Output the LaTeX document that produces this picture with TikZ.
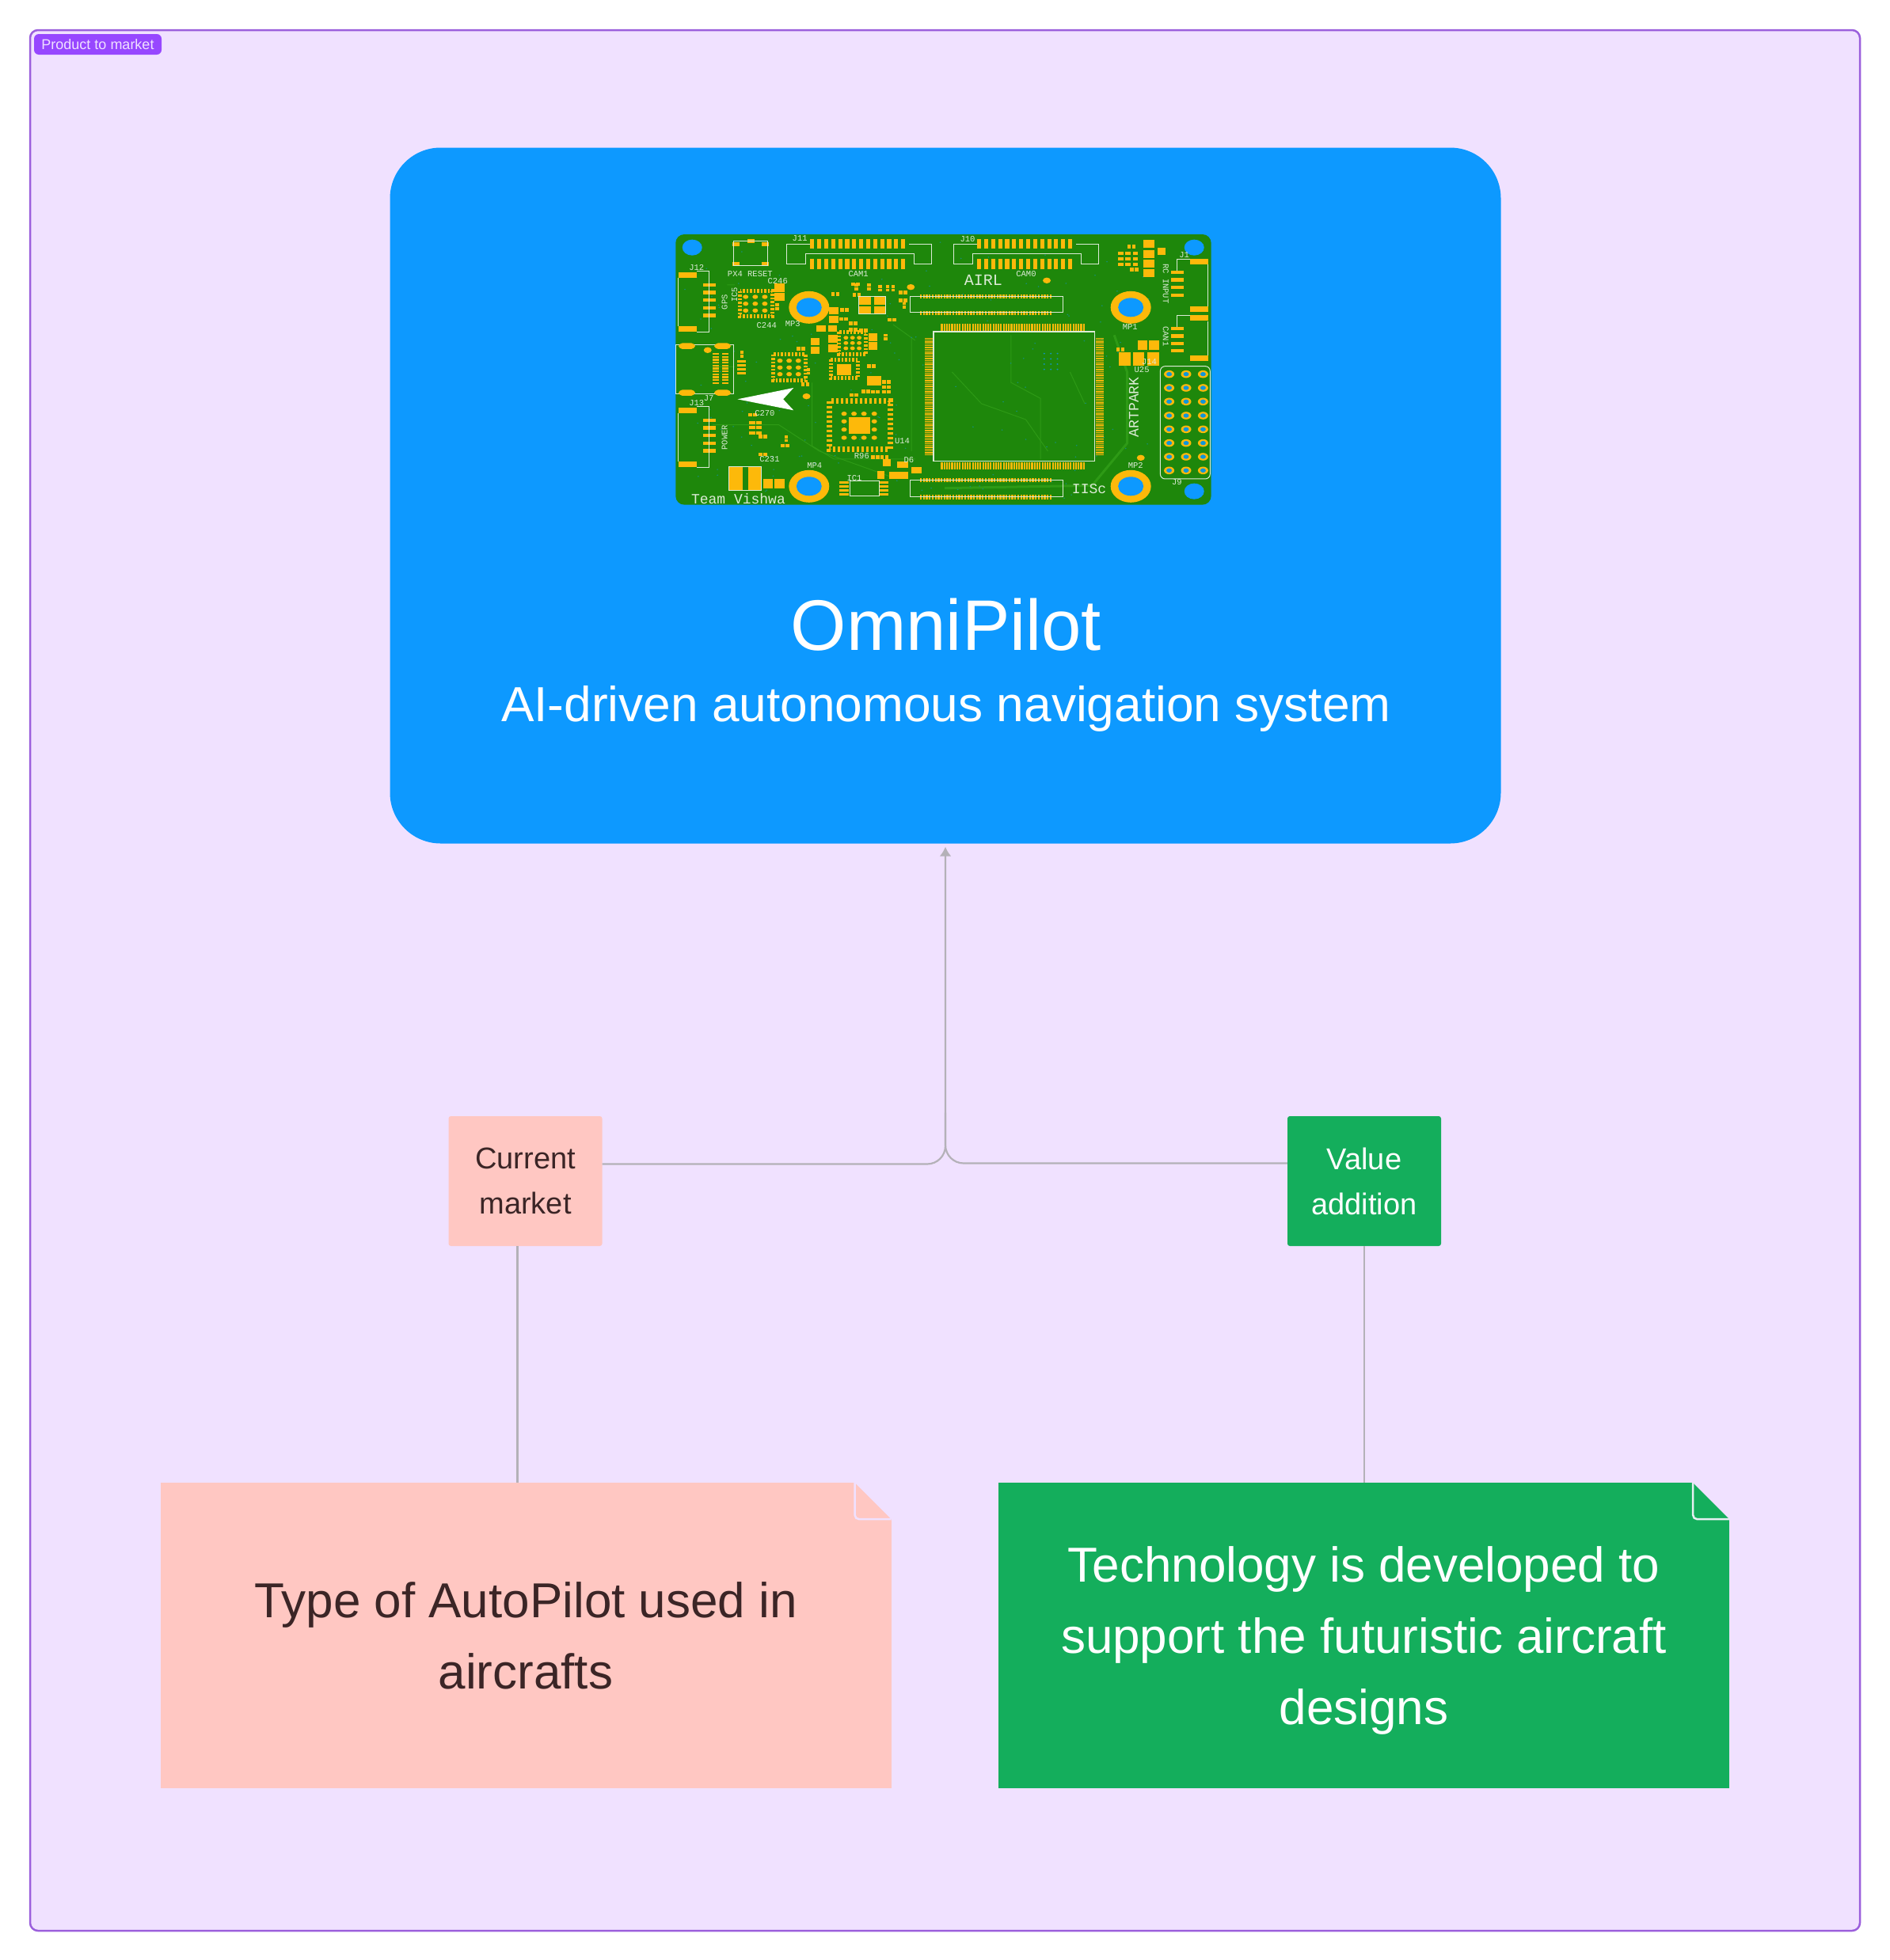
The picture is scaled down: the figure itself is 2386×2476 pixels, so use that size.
\documentclass[tikz,border=0pt]{standalone}
\usepackage{fontspec}
\setmainfont{Liberation Sans}
\newfontfamily\pcbfont{Liberation Mono}
\usetikzlibrary{arrows.meta}
\definecolor{framefill}{HTML}{F0E1FF}
\definecolor{frameline}{HTML}{9B5FDC}
\definecolor{tagfill}{HTML}{9747FF}
\definecolor{omniblue}{HTML}{0D99FF}
\definecolor{notepink}{HTML}{FFC7C2}
\definecolor{notegreen}{HTML}{14AE5C}
\definecolor{inkdark}{HTML}{3B2526}
\definecolor{linkgrey}{HTML}{B4B1B8}
\definecolor{boardgreen}{HTML}{1E870B}
\definecolor{tracegreen}{HTML}{2E9A16}
\definecolor{padgold}{HTML}{FDB90A}
\definecolor{silkline}{HTML}{DCEBD6}
\tikzset{
  box/.style={inner sep=0pt,align=center},
  smallbox/.style={box,minimum width=194pt,minimum height=164pt,rounded corners=3pt,font=\fontsize{38}{57}\selectfont},
  notebox/.style={box,minimum width=923pt,minimum height=385.5pt,font=\fontsize{62}{90}\selectfont},
  link/.style={draw=linkgrey,line width=2.2pt},
  silk/.style={draw=silkline,line width=1pt},
  pcblabel/.style={inner sep=0pt,text=silkline,font=\pcbfont\fontsize{10.5}{10.5}\selectfont},
  pcbbig/.style={inner sep=0pt,text=silkline,font=\pcbfont\fontsize{18}{18}\selectfont}
}
\begin{document}
\begin{tikzpicture}[x=1pt,y=-1pt]
	\useasboundingbox (0,0) rectangle (2386,2476);
	% Frame and its tag
	\draw[fill=framefill,draw=frameline,line width=2.5pt,rounded corners=10pt] (38,38) rectangle (2349,2439);
	\node[box,fill=tagfill,text=framefill,minimum width=161pt,minimum height=26pt,rounded corners=6pt,font=\fontsize{18}{18}\selectfont] (tag) at (123.5,56) {Product to market};
	% Main box
	\node[box,fill=omniblue,minimum width=1403pt,minimum height=879pt,rounded corners=64pt] (omnipilot) at (1194,626) {};
	\node[anchor=base,inner sep=0pt,text=white,font=\fontsize{90.5}{90.5}\selectfont] (omnititle) at (1195,821) {OmniPilot};
	\node[anchor=base,inner sep=0pt,text=white,font=\fontsize{62.2}{62.2}\selectfont] (omnisub) at (1195,911) {AI-driven autonomous navigation system};
	% Small boxes
	\node[smallbox,fill=notepink,text=inkdark] (current) at (663.5,1492) {Current\\market};
	\node[smallbox,fill=notegreen,text=white] (value) at (1723,1492) {Value\\addition};
	% Notes
	\node[notebox,fill=notepink,text=inkdark] (typenote) at (664,2066) {Type of AutoPilot used in\\aircrafts};
	\node[notebox,fill=notegreen,text=white] (technote) at (1722.5,2066) {Technology is developed to\\support the futuristic aircraft\\\smash{designs}};
	% Folded corners
	\foreach \n/\c in {typenote/framefill,technote/framefill!80!notegreen!40!white}{
		\fill[framefill] ([shift={(1pt,1pt)}]\n.north east) -- ++(-48,0) -- ++(48,48) -- cycle;
		\draw[draw=\c,line width=2.5pt,rounded corners=5pt] ([xshift=-46pt]\n.north east) -- ++(0,46) -- ++(46,0);
	}
	% Connectors
	\draw[link,rounded corners=23pt,-{Latex[length=12pt,width=15pt]},shorten >=4pt] ([yshift=21.5pt]current.east) -| (omnipilot.south);
	\draw[link,rounded corners=23pt] ([yshift=22.5pt]value.west) -| ([yshift=-340pt]omnipilot.south);
	\draw[link] ([xshift=-10pt]current.south) -- ([xshift=-10pt]current.south |- typenote.north);
	\draw[link] (value.south) -- (value.south |- technote.north);
	% Circuit board, in its own coordinates
	\begin{scope}[shift={(830,270)},x=0.4655pt,y=-0.3333pt]
		\fill[boardgreen,rounded corners=11pt] (50,78) rectangle (1503,1103);
		% Copper traces
		\draw[tracegreen,line width=3pt] (1240,460) -- (1275,600) -- (1275,870) -- (1180,1030) -- (780,1040);
		\draw[tracegreen,line width=1pt] (800,600) -- (880,720) -- (1000,780) -- (1060,900);
		\draw[tracegreen,line width=1pt] (960,460) -- (960,640) -- (1040,700) -- (1040,930);
		\draw[tracegreen,line width=1pt] (150,800) -- (330,800) -- (440,900) -- (640,1000);
		\draw[tracegreen,line width=1pt] (190,270) -- (210,270) (690,470) -- (690,900) (1120,600) -- (1160,720);
		\draw[tracegreen,line width=1pt] (420,640) -- (420,880) -- (480,930) -- (700,930) (640,420) -- (700,480) (160,580) -- (210,580);
		% Vias
		\pgfmathsetseed{7}
		\foreach \i in {1,...,170}{
			\pgfmathsetmacro\vx{70+1280*rnd}
			\pgfmathsetmacro\vy{100+980*rnd}
			\fill[omniblue!45!boardgreen] (\vx,\vy) circle [x radius=1pt,y radius=0.8pt];
		}
		\foreach \x in {1050,1068,1086} \foreach \y in {530,550,570,590} \fill[omniblue!70!boardgreen] (\x,\y) circle [x radius=1.2pt,y radius=1pt];
		\foreach \x/\y in {137/517,405/692,1057/253,688/278,1312/925}\fill[padgold] (\x,\y) circle [x radius=5pt,y radius=3.7pt];
		% Holes
		\foreach \x/\y in {95/128,1457/128,1457/1052} \fill[omniblue] (\x,\y) circle [x radius=12.5pt,y radius=10pt];
		\foreach \x in {412,1285} \foreach \y in {355,1033}{
			\fill[padgold] (\x,\y) circle [x radius=25.5pt,y radius=20.5pt];
			\fill[omniblue] (\x,\y) circle [x radius=16pt,y radius=12pt];
		}
		% Camera connectors
		\foreach \o in {0,453}{
			\foreach \x in {415,434,...,675}{
				\fill[padgold] (\o+\x,97) rectangle ++(11,35);
				\fill[padgold] (\o+\x,170) rectangle ++(11,40);
			}
			\draw[silk] (\o+415,115) -- ++(-63,0) -- ++(0,75) -- ++(50,0) -- ++(0,-38) -- ++(295,0) -- ++(0,38) -- ++(48,0) -- ++(0,-75) -- ++(-62,0);
		}
		% Fine pitch connectors
		\foreach \y in {305,1003}{
			\foreach \x in {713,721,...,1071}{
				\fill[padgold] (\x,\y) rectangle ++(5,15);
				\fill[padgold] (\x,\y+63) rectangle ++(5,16);
			}
			\draw[silk] (687,\y+8) rectangle (1100,\y+70);
		}
		% Big chip
		\foreach \x in {770,777,...,1160}{
			\fill[padgold] (\x,418) rectangle ++(4.5,27);
			\fill[padgold] (\x,941) rectangle ++(4.5,27);
		}
		\foreach \y in {470,477,...,915}{
			\fill[padgold] (725,\y) rectangle ++(23,4);
			\fill[padgold] (1190,\y) rectangle ++(22,4);
		}
		\draw[silk,line width=1.5pt] (750,447) rectangle (1187,938);
		% Smaller chips
		\foreach \l/\t/\r/\b in {225/293/312/390,315/533/402/632,493/448/567/532,471/553/545/622}
			\draw[padgold,line width=5pt,dash pattern=on 2.5pt off 2pt] (\l,\t) rectangle (\r,\b);
		\foreach \x in {240,266,292} \foreach \y in {315,341,367} \fill[padgold] (\x,\y) circle [x radius=3.5pt,y radius=2.7pt];
		\foreach \x in {333,358,383} \foreach \y in {557,583,608} \fill[padgold] (\x,\y) circle [x radius=3.5pt,y radius=2.7pt];
		\foreach \x in {512,530,548} \foreach \y in {470,490,510} \fill[padgold] (\x,\y) circle [x radius=3pt,y radius=2.4pt];
		\fill[padgold] (488,570) rectangle (527,612);
		\draw[padgold,line width=7pt,dash pattern=on 3pt off 3pt] (467,710) rectangle (632,893);
		\fill[padgold] (520,772) rectangle (577,835);
		\foreach \x in {507,534,561,589} \foreach \y in {758,849} \fill[padgold] (\x,\y) circle [x radius=3.5pt,y radius=2.7pt];
		\foreach \x in {507,589} \foreach \y in {787,818} \fill[padgold] (\x,\y) circle [x radius=3.5pt,y radius=2.7pt];
		% Side connectors
		\foreach \o in {0,513}{
			\foreach \y in {222,425} \fill[padgold] (57,\o+\y) rectangle ++(50,21);
			\foreach \y in {263,292,...,405} \fill[padgold] (125,\o+\y) rectangle ++(33,13);
			\draw[silk] (107,\o+218) -- ++(33,0) -- ++(0,230) -- ++(-33,0) (57,\o+243) -- ++(0,182);
		}
		\foreach \y in {172,350,385,538} \fill[padgold] (1445,\y) rectangle ++(50,21);
		\foreach \y in {215,244,273,302} \fill[padgold] (1395,\y) rectangle ++(33,13);
		\foreach \y in {428,457,486,513} \fill[padgold] (1395,\y) rectangle ++(33,13);
		\draw[silk] (1445,172) -- (1410,172) -- (1410,215) (1495,193) -- (1495,350) (1445,385) -- (1410,385) -- (1410,428) (1495,407) -- (1495,538);
		% Pin header
		\draw[silk,rounded corners=6pt] (1365,578) rectangle (1500,1005);
		\foreach \x in {1389,1435,1481} \foreach \y in {608,660,712,765,817,869,921,973}{
			\fill[padgold] (\x,\y) circle [x radius=6.5pt,y radius=4.8pt];
			\fill[omniblue!85!boardgreen] (\x,\y) circle [x radius=3.5pt,y radius=2.7pt];
		}
		% USB connector
		\draw[silk] (50,498) rectangle (207,683);
		\foreach \y in {490,667} \foreach \x in {58,155} \fill[padgold,rounded corners=5pt] (\x,\y) rectangle ++(45,23);
		\foreach \x in {150,177} \foreach \y in {528,539,...,640} \fill[padgold] (\x,\y) rectangle ++(17,7);
		% Reset switch
		\foreach \x/\y in {203/108,283/108,203/183,283/183,245/96} \fill[padgold] (\x,\y) rectangle ++(20,14);
		% Passive parts
		\foreach \x/\y in {378/505,472/298,530/300,496/358,520/408,625/395,570/570,610/630,610/650,610/668,555/666,580/668,522/680,580/915,605/915,275/905,247/755,275/838,335/872,390/640,655/292,655/322,1275/118,1283/205,1245/508,527/260,520/432,548/435,495/392}{
			\fill[padgold] (\x,\y) rectangle ++(10,14);
			\fill[padgold] (\x+13,\y) rectangle ++(10,14);
		}
		\foreach \x/\y in {225/520,345/840,405/585,320/340,600/270,620/270,570/265,665/335,635/270,615/455,535/265}{
			\fill[padgold] (\x,\y) rectangle ++(10,11);
			\fill[padgold] (\x,\y+14) rectangle ++(10,11);
		}
		\foreach \l/\t/\r/\b in {318/265/345/296,318/300/345/330,432/423/458/448,463/423/488/448,467/355/492/382,467/388/492/415,573/452/597/482,573/487/597/517,465/460/490/490,465/495/490/525,417/470/440/498,417/503/440/530,1305/480/1330/515,1335/480/1362/515,195/958/232/1050,247/958/283/1050,287/1005/313/1040,318/1005/345/1040,547/315/580/345,588/315/620/345,547/350/580/380,588/350/620/380,1318/100/1350/130,1318/138/1350/168,1318/175/1350/205,1318/210/1350/240,1252/525/1285/575,1292/525/1322/575,1330/525/1362/575,1357/128/1380/155,570/615/607/650,612/930/634/958,650/940/680/962,690/960/718/985,597/975/617/1005,630/978/680/1005}
			\fill[padgold] (\l,\t) rectangle (\r,\b);
		\foreach \y in {1015,1030,1045,1060} \fill[padgold] (495,\y) rectangle ++(25,7);
		\foreach \y in {1015,1030,1045,1060} \fill[padgold] (602,\y) rectangle ++(25,7);
		\foreach \x in {1250,1270,1290} \foreach \y in {145,165,185} \fill[padgold] (\x,\y) rectangle ++(15,12);
		\foreach \y in {555,570,585,600} \fill[padgold] (216,\y) rectangle ++(24,10);
		\foreach \x in {250,268} \foreach \y in {785,805,825} \fill[padgold] (\x,\y) rectangle ++(16,12);
		\draw[silk] (522,1012) rectangle (602,1070) (195,958) rectangle (283,1050) (207,103) rectangle (300,197) (547,313) rectangle (620,380);
		% Arrow mark
		\fill[white] (218,703) -- (370,660) -- (342,703) -- (370,745) -- cycle;
		% Board labels
		\node[pcbbig,font=\pcbfont\fontsize{20}{20}\selectfont] (airl) at (885,253) {AIRL};
		\node[pcbbig] (iisc) at (1172,1042) {IISc};
		\node[pcbbig,rotate=90] (artpark) at (1293,733) {ARTPARK};
		\node[pcbbig] (vishwa) at (220,1079) {Team Vishwa};
		\foreach \x/\y/\t in {252/229/PX4 RESET,546/229/CAM1,1001/229/CAM0,107/204/J12,107/716/J13,140/698/J7,387/93/J11,842/96/J10,1430/157/J1,1335/562/J14,1283/430/MP1,368/418/MP3,427/953/MP4,1298/953/MP2,1410/1018/J9,1315/592/U25,665/860/U14,555/918/R96,535/1001/IC1,683/932/D6,305/930/C231,292/755/C270,297/422/C244,327/254/C246}
			\node[pcblabel] at (\x,\y) {\t};
		\foreach \x/\y/\t in {183/335/GPS,183/848/POWER,210/307/IC5}
			\node[pcblabel,rotate=90] at (\x,\y) {\t};
		\foreach \x/\y/\t in {1380/265/RC INPUT,1380/465/CAN1}
			\node[pcblabel,rotate=-90] at (\x,\y) {\t};
	\end{scope}
\end{tikzpicture}
\end{document}
